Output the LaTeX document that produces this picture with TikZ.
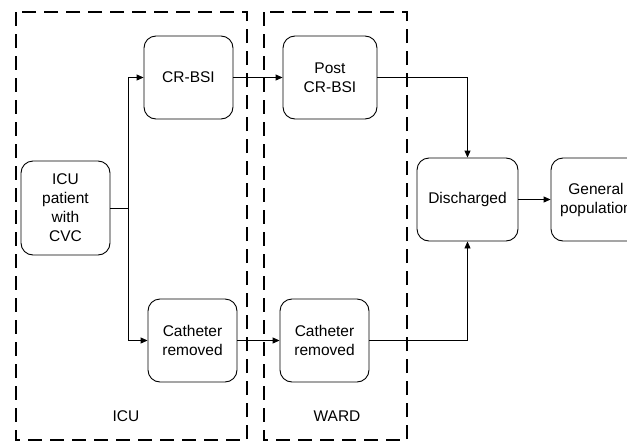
\documentclass[tikz,border=0pt]{standalone}
\usepackage{fontspec}
\setmainfont{Liberation Sans}
\usetikzlibrary{arrows.meta}
\begin{document}
\begin{tikzpicture}[x=1pt,y=-1pt,
  box/.style={draw,line width=0.9pt,rounded corners=12pt,align=center,inner sep=0pt,
    font=\fontsize{15.5}{19}\selectfont},
  zone/.style={draw,line width=2.8pt,dash pattern=on 14pt off 8pt},
  lbl/.style={font=\fontsize{15.5}{19}\selectfont,inner sep=0pt},
  arr/.style={line width=0.9pt,-{Triangle[length=7pt,width=6pt]}},
  ln/.style={line width=0.9pt}]
\clip (0,0) rectangle (627,442);
% zones
\draw[zone] (16,12) rectangle (247,440);
\draw[zone] (264,12) rectangle (407,440);
\node[lbl] (licu) at (126,416) {ICU};
\node[lbl] (lward) at (337,416) {WARD};
% boxes
\node[box,minimum width=89pt,minimum height=94pt] (icu) at (65.5,208) {ICU\\patient\\with\\CVC};
\node[box,minimum width=89pt,minimum height=83pt] (crbsi) at (188.5,77.5) {CR-BSI};
\node[box,minimum width=89pt,minimum height=83pt] (catI) at (192.5,340.5) {Catheter\\removed};
\node[box,minimum width=94pt,minimum height=83pt] (post) at (330,77.5) {Post\\CR-BSI};
\node[box,minimum width=89pt,minimum height=83pt] (catW) at (324.5,340.5) {Catheter\\removed};
\node[box,minimum width=101pt,minimum height=83pt] (dis) at (467.5,199.5) {Discharged};
\node[box,minimum width=90pt,minimum height=83pt] (gen) at (596,199.5) {General\\population};
% connectors
\coordinate (br) at (128,208);
\draw[ln] (icu.east) -- (br);
\draw[arr] (br) |- (crbsi.west);
\draw[arr] (br) |- (catI.west);
\draw[arr] (crbsi.east) -- (post.west);
\draw[arr] (catI.east) -- (catW.west);
\draw[arr] (post.east) -| (dis.north);
\draw[arr] (catW.east) -| (dis.south);
\draw[arr] (dis.east) -- (gen.west);
\end{tikzpicture}
\end{document}
